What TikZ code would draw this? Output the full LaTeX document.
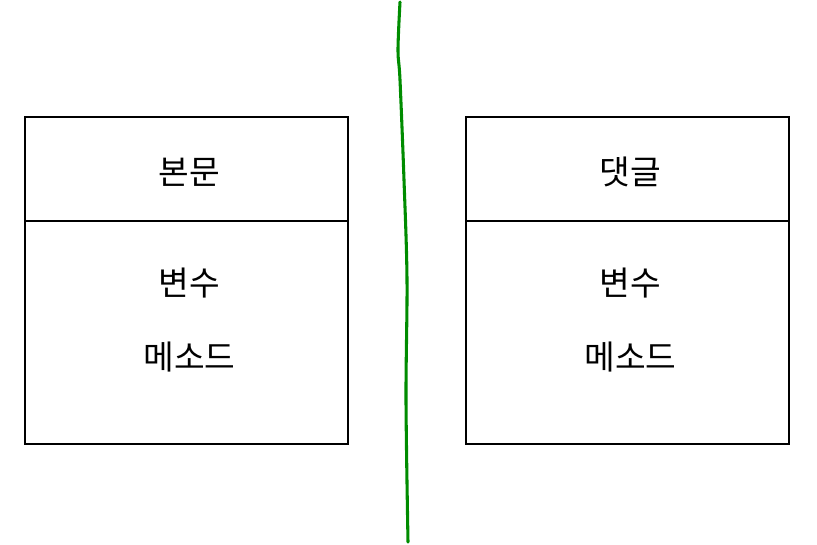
\documentclass[tikz,border=0pt]{standalone}
\usepackage{fontspec}
\setmainfont{Noto Sans CJK KR}
\usetikzlibrary{positioning}
\tikzset{
  part/.style={
    rectangle,draw=black,line width=2pt,outer sep=0pt,
    minimum width=242.25pt,inner sep=0pt
  },
  head/.style={part,minimum height=78pt},
  body/.style={part,minimum height=167.25pt},
  item/.style={inner sep=0pt},
  divider/.style={draw=green!55!black,line width=2.3pt,line cap=round}
}
\begin{document}
\begin{tikzpicture}[x=0.75pt,y=-0.75pt,every node/.style={font=\fontsize{25pt}{30pt}\selectfont}]
    \useasboundingbox (0,0) rectangle (817,544);

    % left class
    \node[head] (posthead) at (186.5,169) {};
    \node[body,below=0pt of posthead] (postbody) {};
    \node[item] (posttitle) at (189.5,172) {본문};
    \node[item] (postvar) at (189.5,283) {변수};
    \node[item] (postmeth) at (189.5,357) {메소드};

    % right class
    \node[head] (replyhead) at (627.5,169) {};
    \node[body,below=0pt of replyhead] (replybody) {};
    \node[item] (replytitle) at (630.5,172) {댓글};
    \node[item] (replyvar) at (630.5,283) {변수};
    \node[item] (replymeth) at (630.5,357) {메소드};

    % separator
    \draw[divider] plot[smooth,tension=0.55] coordinates
      {(400,2) (398,50) (400,80) (404,180) (407,280) (406,400) (408,542)};
\end{tikzpicture}
\end{document}
